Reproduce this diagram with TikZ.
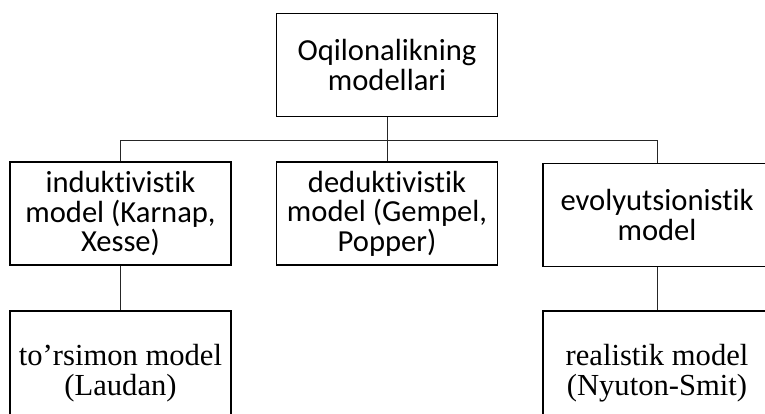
\documentclass[tikz,border=0pt]{standalone}
\usepackage{fontspec}
\setmainfont[Ligatures={NoCommon}]{Carlito}
\newfontfamily\timesfont{Liberation Serif}
\usepackage{tikz}
\usetikzlibrary{positioning, calc}

\begin{document}
\begin{tikzpicture}[
            x=0.5pt, y=-0.5pt,
            font=\fontsize{15.3}{14.8}\selectfont,
            box/.style={draw, line width=0.9pt, align=center, inner sep=2pt,
                        minimum width=110.5pt, minimum height=51.5pt},
            lowbox/.style={box, minimum height=62pt,
                           font=\timesfont\fontsize{15.3}{15.3}\selectfont},
            wide/.style={minimum width=114pt},
            link/.style={line width=0.5pt, black!85}
        ]
            \clip (0, 0) rectangle (765, 413);

            \node[box] (top) at (387, 65)
                {Oqilonalikning\\ modellari};

            \node[box] (ind) at (120.5, 213.5)
                {induktivistik\\ model (Karnap,\\ Xesse)};

            \node[box] (ded) at (387, 213.5)
                {deduktivistik\\ model (Gempel,\\ Popper)};

            \node[box, wide] (evo) at (657, 215)
                {evolyutsionistik\\ model};

            \node[lowbox] (tor) at (120.5, 373)
                {to’rsimon model\\ (Laudan)};

            \node[lowbox, wide] (real) at (657, 373)
                {realistik model\\ (Nyuton-Smit)};

            \coordinate (bus) at (387, 140);

            \draw[link] (top.south) -- (top.south |- bus) -| (ind.north);
            \draw[link] (top.south |- bus) -| (evo.north);
            \draw[link] (top.south |- bus) -- (ded.north);
            \draw[link] (ind.south) -- (tor.north);
            \draw[link] (evo.south) -- (real.north);
        \end{tikzpicture}
\end{document}
